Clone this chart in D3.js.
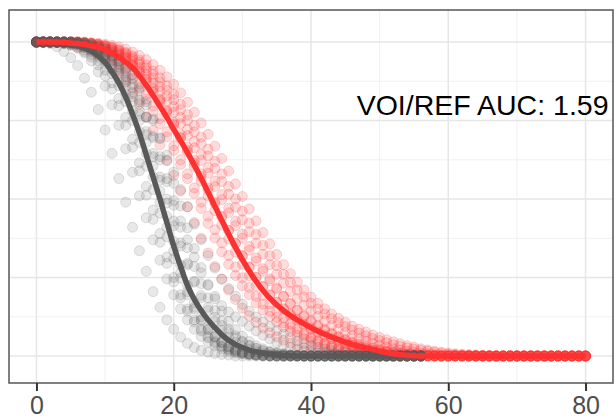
<!DOCTYPE html>
<html>
<head>
<meta charset="utf-8">
<script src="https://cdn.jsdelivr.net/npm/d3@7"></script>
<style>
html,body{margin:0;padding:0;background:#fff;}
svg{display:block;}
</style>
</head>
<body>
<svg id="chart" width="615" height="419"></svg>
<script>
// ---- data ----
const times = [0,1,2,3,4,5,6,7,8,9,10,11,12,13,14,15,16,17,18,19,20,21,22,23,24,25,26,27,28,29,30,31,32,33,34,35,36,37,38,39,40,41,42,43,44,45,46,47,48,49,50,51,52,53,54,55,56,57,58,59,60,61,62,63,64,65,66,67,68,69,70,71,72,73,74,75,76,77,78,79,80];
const xTicks = [0,20,40,60,80];
const xMinor = [10,30,50,70];
const yGrid = [0,0.25,0.5,0.75,1];
const yMinor = [0.125,0.375,0.625,0.875];
const annotation = "VOI/REF AUC: 1.59";
const annotationAt = [65,0.8];

// reference group (grey) mean curve
const greyMean = [1,1,1,1,0.998,0.995,0.99,0.98,0.97,0.955,0.935,0.905,0.87,0.825,0.77,0.71,0.64,0.57,0.5,0.425,0.35,0.285,0.225,0.18,0.145,0.115,0.09,0.068,0.05,0.037,0.027,0.019,0.013,0.009,0.006,0.004,0.002,0.001,
0,0,0,0,0,0,0,0,0,0,0,0,0,0,0,0,0,0,0];
// individual grey curves
const g1 = [1,1,0.995,0.985,0.97,0.95,0.925,0.885,0.84,0.785,0.72,0.645,0.565,0.49,0.41,0.335,0.27,0.205,0.155,0.115,0.085,0.06,0.04,0.027,0.018,0.012,0.008,0.005,0.003,
0,0,0,0,0,0,0,0,0,0,0,0,0,0,0,0,0,0,0,0,0,0,0,0,0,0,0,0];
const g2 = [1,1,1,0.998,0.995,0.99,0.98,0.965,0.94,0.905,0.86,0.8,0.735,0.66,0.585,0.51,0.44,0.37,0.305,0.245,0.195,0.15,0.115,0.085,0.062,0.045,0.032,0.022,0.015,0.01,0.007,0.004,0.002,
0,0,0,0,0,0,0,0,0,0,0,0,0,0,0,0,0,0,0,0,0,0,0,0];
const g3 = [1,1,1,1,0.997,0.993,0.985,0.975,0.96,0.94,0.91,0.87,0.82,0.76,0.69,0.615,0.54,0.465,0.39,0.315,0.25,0.195,0.15,0.115,0.085,0.062,0.045,0.032,0.022,0.015,0.01,0.006,0.004,0.002,
0,0,0,0,0,0,0,0,0,0,0,0,0,0,0,0,0,0,0,0,0,0,0];
const g4 = [1,1,1,1,1,0.997,0.993,0.985,0.975,0.96,0.94,0.915,0.88,0.835,0.78,0.715,0.645,0.57,0.49,0.41,0.335,0.265,0.205,0.155,0.115,0.085,0.06,0.042,0.028,0.018,0.012,0.007,0.004,0.002,
0,0,0,0,0,0,0,0,0,0,0,0,0,0,0,0,0,0,0,0,0,0,0];
const g5 = [1,1,1,1,1,1,0.997,0.993,0.985,0.975,0.96,0.94,0.915,0.88,0.835,0.78,0.715,0.645,0.57,0.5,0.43,0.36,0.295,0.235,0.185,0.145,0.11,0.082,0.06,0.043,0.03,0.021,0.014,0.009,0.006,0.004,0.002,
0,0,0,0,0,0,0,0,0,0,0,0,0,0,0,0,0,0,0,0];
const g6 = [1,1,1,1,1,1,0.998,0.995,0.99,0.982,0.97,0.955,0.935,0.905,0.865,0.815,0.76,0.695,0.625,0.555,0.48,0.41,0.345,0.285,0.23,0.185,0.145,0.112,0.085,0.064,0.047,0.034,0.024,0.017,0.012,0.008,0.005,0.003,0.002,
0,0,0,0,0,0,0,0,0,0,0,0,0,0,0,0,0,0];
const g7 = [1,1,1,1,1,0.998,0.995,0.99,0.983,0.973,0.96,0.943,0.92,0.89,0.855,0.81,0.76,0.7,0.635,0.565,0.495,0.43,0.37,0.315,0.265,0.225,0.19,0.16,0.14,0.125,0.11,0.095,0.08,0.066,0.054,0.043,0.034,0.027,0.021,0.016,0.012,0.009,0.007,0.005,0.003,0.002,0.001,
0,0,0,0,0,0,0,0,0,0];
const g8 = [1,1,1,1,1,1,0.998,0.995,0.99,0.982,0.972,0.958,0.94,0.915,0.885,0.845,0.8,0.75,0.695,0.64,0.585,0.53,0.475,0.42,0.37,0.32,0.28,0.245,0.215,0.19,0.165,0.143,0.124,0.108,0.094,0.081,0.069,0.058,0.048,0.04,0.033,0.027,0.022,0.017,0.013,0.01,0.007,0.005,0.003,0.002,0.001,
0,0,0,0,0,0];
const g9 = [1,1,1,1,0.998,0.995,0.99,0.982,0.97,0.953,0.93,0.9,0.86,0.81,0.75,0.68,0.605,0.53,0.455,0.38,0.31,0.248,0.195,0.15,0.113,0.084,0.061,0.044,0.031,0.021,0.014,0.009,0.006,0.004,0.002,0.001,
0,0,0,0,0,0,0,0,0,0,0,0,0,0,0,0,0,0,0,0,0];
const g10 = [1,1,1,1,1,0.998,0.995,0.99,0.982,0.97,0.953,0.93,0.9,0.86,0.81,0.75,0.68,0.605,0.525,0.445,0.365,0.29,0.225,0.17,0.125,0.09,0.063,0.043,0.029,0.019,0.012,0.007,0.004,0.002,0.001,
0,0,0,0,0,0,0,0,0,0,0,0,0,0,0,0,0,0,0,0,0,0];
const g11 = [1,1,1,1,1,0.998,0.995,0.99,0.983,0.973,0.958,0.938,0.91,0.873,0.826,0.77,0.705,0.635,0.56,0.487,0.415,0.35,0.29,0.238,0.193,0.155,0.123,0.097,0.075,0.058,0.044,0.033,0.024,0.017,0.012,0.008,0.005,0.003,0.002,0.001,
0,0,0,0,0,0,0,0,0,0,0,0,0,0,0,0,0];
const g12 = [1,1,1,1,1,1,0.998,0.996,0.992,0.986,0.977,0.965,0.948,0.925,0.895,0.857,0.81,0.755,0.692,0.622,0.55,0.478,0.408,0.342,0.282,0.228,0.182,0.143,0.11,0.084,0.063,0.046,0.033,0.023,0.016,0.011,0.007,0.004,0.002,0.001,
0,0,0,0,0,0,0,0,0,0,0,0,0,0,0,0,0];
const g13 = [1,1,1,0.998,0.995,0.99,0.982,0.97,0.952,0.927,0.893,0.85,0.797,0.735,0.665,0.59,0.512,0.435,0.362,0.295,0.236,0.185,0.143,0.108,0.08,0.058,0.041,0.029,0.02,0.013,0.008,0.005,0.003,0.001,
0,0,0,0,0,0,0,0,0,0,0,0,0,0,0,0,0,0,0,0,0,0,0];

// VOI group (red) mean curve
const redMean = [1,1,1,1,0.999,0.997,0.995,0.992,0.988,0.984,0.975,0.965,0.952,0.936,0.918,0.893,0.862,0.83,0.795,0.76,0.722,0.686,0.648,0.608,0.566,0.522,0.477,0.432,0.388,0.346,0.307,0.271,0.238,0.209,0.184,0.163,0.145,0.129,0.115,0.102,0.09,0.079,0.069,0.06,0.052,0.044,0.037,0.031,0.026,0.021,0.016,0.011,0.007,0.004,0.002,0.001,
0,0,0,0,0,0,0,0,0,0,0,0,0,0,0,0,0,0,0,0,0,0,0,0,0];
// individual red curves
const r1 = [1,1,1,1,0.998,0.995,0.99,0.983,0.973,0.96,0.944,0.924,0.9,0.872,0.84,0.803,0.762,0.718,0.672,0.624,0.575,0.525,0.475,0.425,0.375,0.328,0.285,0.245,0.21,0.18,0.152,0.128,0.107,0.089,0.074,0.061,0.05,0.041,0.033,0.026,0.02,0.015,0.011,0.008,0.005,0.003,0.002,0.001,
0,0,0,0,0,0,0,0,0,0,0,0,0,0,0,0,0,0,0,0,0,0,0,0,0,0,0,0,0,0,0,0,0];
const r2 = [1,1,1,1,1,0.998,0.995,0.99,0.984,0.975,0.963,0.948,0.93,0.908,0.882,0.852,0.818,0.78,0.74,0.698,0.655,0.61,0.565,0.518,0.47,0.422,0.376,0.332,0.292,0.256,0.224,0.195,0.169,0.146,0.126,0.108,0.092,0.078,0.066,0.055,0.046,0.038,0.031,0.025,0.02,0.015,0.011,0.008,0.005,0.003,0.002,0.001,
0,0,0,0,0,0,0,0,0,0,0,0,0,0,0,0,0,0,0,0,0,0,0,0,0,0,0,0,0];
const r3 = [1,1,1,1,1,1,0.998,0.996,0.993,0.988,0.982,0.973,0.962,0.948,0.93,0.908,0.882,0.852,0.818,0.782,0.744,0.705,0.665,0.623,0.58,0.535,0.49,0.445,0.4,0.358,0.318,0.282,0.25,0.221,0.195,0.172,0.151,0.133,0.117,0.102,0.089,0.077,0.067,0.058,0.05,0.042,0.035,0.029,0.024,0.019,0.015,0.011,0.008,0.005,0.003,0.002,0.001,
0,0,0,0,0,0,0,0,0,0,0,0,0,0,0,0,0,0,0,0,0,0,0,0];
const r4 = [1,1,1,1,1,1,1,0.998,0.995,0.99,0.984,0.976,0.966,0.953,0.937,0.918,0.896,0.87,0.842,0.81,0.776,0.74,0.702,0.663,0.623,0.582,0.54,0.498,0.456,0.415,0.375,0.337,0.302,0.27,0.24,0.213,0.189,0.167,0.147,0.129,0.113,0.098,0.085,0.073,0.062,0.053,0.045,0.038,0.031,0.025,0.02,0.016,0.012,0.009,0.006,0.004,0.003,0.002,0.001,
0,0,0,0,0,0,0,0,0,0,0,0,0,0,0,0,0,0,0,0,0,0];
const r5 = [1,1,1,1,1,1,1,0.998,0.996,0.993,0.988,0.982,0.974,0.964,0.951,0.936,0.918,0.897,0.873,0.846,0.816,0.784,0.75,0.714,0.676,0.637,0.597,0.556,0.515,0.474,0.434,0.396,0.359,0.324,0.291,0.26,0.232,0.206,0.183,0.162,0.143,0.126,0.111,0.097,0.085,0.074,0.064,0.055,0.047,0.04,0.034,0.028,0.023,0.019,0.015,0.012,0.009,0.007,0.005,0.004,0.003,0.002,0.001,
0,0,0,0,0,0,0,0,0,0,0,0,0,0,0,0,0,0];
const r6 = [1,1,1,1,1,1,1,1,0.998,0.996,0.993,0.989,0.984,0.977,0.968,0.957,0.944,0.928,0.91,0.889,0.865,0.838,0.808,0.776,0.742,0.706,0.668,0.629,0.589,0.548,0.508,0.468,0.43,0.393,0.357,0.323,0.291,0.262,0.235,0.21,0.188,0.168,0.15,0.134,0.12,0.107,0.095,0.085,0.076,0.067,0.059,0.052,0.045,0.039,0.033,0.028,0.023,0.019,0.015,0.012,0.009,0.007,0.005,0.004,0.003,0.002,0.001,
0,0,0,0,0,0,0,0,0,0,0,0,0,0];
const r7 = [1,1,1,1,1,0.998,0.996,0.993,0.989,0.984,0.977,0.968,0.956,0.941,0.923,0.9,0.873,0.842,0.808,0.772,0.734,0.695,0.655,0.614,0.572,0.529,0.486,0.443,0.4,0.359,0.32,0.284,0.251,0.221,0.194,0.17,0.149,0.13,0.113,0.098,0.085,0.073,0.063,0.054,0.046,0.039,0.033,0.027,0.022,0.018,0.014,0.011,0.008,0.006,0.004,0.003,0.002,0.001,
0,0,0,0,0,0,0,0,0,0,0,0,0,0,0,0,0,0,0,0,0,0,0];
const r8 = [1,1,1,1,1,1,0.998,0.996,0.993,0.988,0.981,0.972,0.96,0.945,0.927,0.905,0.879,0.849,0.815,0.778,0.738,0.695,0.65,0.604,0.557,0.51,0.463,0.417,0.373,0.331,0.292,0.256,0.223,0.193,0.166,0.142,0.121,0.102,0.086,0.072,0.06,0.05,0.041,0.033,0.027,0.021,0.017,0.013,0.01,0.007,0.005,0.003,0.002,0.001,
0,0,0,0,0,0,0,0,0,0,0,0,0,0,0,0,0,0,0,0,0,0,0,0,0,0,0];
const r9 = [1,1,1,1,1,1,1,0.998,0.996,0.992,0.987,0.98,0.971,0.96,0.946,0.929,0.909,0.885,0.858,0.828,0.795,0.76,0.722,0.683,0.642,0.6,0.557,0.514,0.471,0.429,0.388,0.349,0.312,0.278,0.246,0.217,0.19,0.166,0.145,0.126,0.109,0.094,0.081,0.069,0.059,0.05,0.042,0.035,0.029,0.024,0.019,0.015,0.012,0.009,0.007,0.005,0.003,0.002,0.001,
0,0,0,0,0,0,0,0,0,0,0,0,0,0,0,0,0,0,0,0,0,0];
const r10 = [1,1,1,1,1,1,1,0.998,0.996,0.993,0.989,0.983,0.976,0.967,0.956,0.943,0.927,0.908,0.886,0.861,0.833,0.802,0.769,0.734,0.697,0.659,0.62,0.58,0.54,0.5,0.461,0.423,0.387,0.352,0.319,0.288,0.26,0.234,0.21,0.188,0.168,0.15,0.134,0.119,0.106,0.094,0.083,0.073,0.064,0.056,0.049,0.042,0.036,0.031,0.026,0.022,0.018,0.015,0.012,0.009,0.007,0.005,0.004,0.003,0.002,0.001,
0,0,0,0,0,0,0,0,0,0,0,0,0,0,0];
const r11 = [1,1,1,1,0.999,0.997,0.994,0.99,0.985,0.978,0.968,0.955,0.939,0.919,0.895,0.866,0.833,0.796,0.756,0.714,0.67,0.625,0.58,0.535,0.49,0.445,0.402,0.36,0.32,0.283,0.249,0.218,0.19,0.165,0.143,0.123,0.106,0.091,0.077,0.065,0.055,0.046,0.038,0.031,0.025,0.02,0.016,0.012,0.009,0.007,0.005,0.003,0.002,0.001,
0,0,0,0,0,0,0,0,0,0,0,0,0,0,0,0,0,0,0,0,0,0,0,0,0,0,0];

const greyCurves = [g1,g2,g13,g3,g9,g4,g10,g11,g5,g6,g12,g7,g8];
const redCurves = [r1,r11,r2,r7,r3,r8,r4,r9,r5,r10,r6];

// ---- drawing ----
const W = 615, H = 419;
const P = {left: 9, right: 613, top: 10, bottom: 383};
const svg = d3.select("#chart");

const x = d3.scaleLinear().domain([-4, 84]).range([P.left, P.right]);
const y = d3.scaleLinear().domain([-0.086, 1.102]).range([P.bottom, P.top]);

const GREY = "#595959", RED = "#ff3030";
const FONT = "'Liberation Sans', Arial, Helvetica, sans-serif";

svg.append("rect").attr("x",0).attr("y",0).attr("width",W).attr("height",H).attr("fill","#fff");

const grid = svg.append("g");
grid.selectAll("line.vmin").data(xMinor).join("line").attr("class","vmin")
  .attr("x1", d=>x(d)).attr("x2", d=>x(d)).attr("y1", P.top).attr("y2", P.bottom)
  .attr("stroke", "#f0f0f0").attr("stroke-width", 1);
grid.selectAll("line.hmin").data(yMinor).join("line").attr("class","hmin")
  .attr("x1", P.left).attr("x2", P.right).attr("y1", d=>y(d)).attr("y2", d=>y(d))
  .attr("stroke", "#f0f0f0").attr("stroke-width", 1);
grid.selectAll("line.vmaj").data(xTicks).join("line").attr("class","vmaj")
  .attr("x1", d=>x(d)).attr("x2", d=>x(d)).attr("y1", P.top).attr("y2", P.bottom)
  .attr("stroke", "#e6e6e6").attr("stroke-width", 1.5);
grid.selectAll("line.hmaj").data(yGrid).join("line").attr("class","hmaj")
  .attr("x1", P.left).attr("x2", P.right).attr("y1", d=>y(d)).attr("y2", d=>y(d))
  .attr("stroke", "#e6e6e6").attr("stroke-width", 1.5);

const plot = svg.append("g");

function drawPoints(curves, color, fo, so) {
  const g = plot.append("g");
  curves.forEach(c => {
    g.append("g").selectAll("circle").data(c).join("circle")
      .attr("cx", (d,i)=>x(times[i])).attr("cy", d=>y(d)).attr("r", 5)
      .attr("fill", color).attr("fill-opacity", fo)
      .attr("stroke", color).attr("stroke-opacity", so).attr("stroke-width", 1);
  });
}
drawPoints(redCurves, RED, 0.17, 0.2);
drawPoints(greyCurves, GREY, 0.14, 0.17);

const line = d3.line().x((d,i)=>x(times[i])).y(d=>y(d)).curve(d3.curveMonotoneX);
plot.append("path").datum(greyMean).attr("d", line)
  .attr("fill","none").attr("stroke", GREY).attr("stroke-width", 5.5);
plot.append("path").datum(redMean).attr("d", line)
  .attr("fill","none").attr("stroke", RED).attr("stroke-width", 5.5);

svg.append("text")
  .attr("x", x(annotationAt[0])).attr("y", y(annotationAt[1]))
  .attr("text-anchor","middle").attr("dominant-baseline","central")
  .attr("font-family", FONT)
  .attr("font-size", 28.5).attr("fill","#000").text(annotation);

// panel border
svg.append("rect").attr("x",P.left).attr("y",P.top)
  .attr("width",P.right-P.left).attr("height",P.bottom-P.top)
  .attr("fill","none").attr("stroke","#555").attr("stroke-width",1.5);

// x axis
const ax = svg.append("g").attr("transform", `translate(0,${P.bottom})`)
  .call(d3.axisBottom(x).tickValues(xTicks).tickSize(8).tickPadding(5).tickFormat(d3.format("d")));
ax.select(".domain").remove();
ax.selectAll(".tick line").attr("stroke","#333").attr("stroke-width",2);
ax.selectAll(".tick text").attr("fill","#4d4d4d").attr("font-size",25)
  .attr("font-family", FONT);
</script>
</body>
</html>
